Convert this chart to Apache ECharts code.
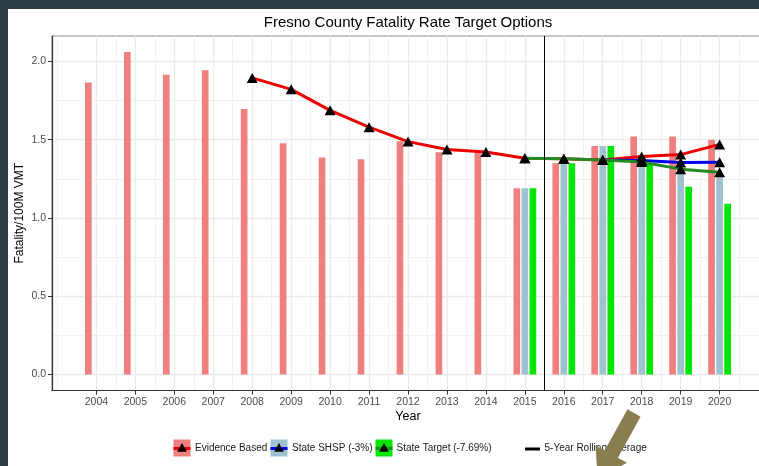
<!DOCTYPE html>
<html><head><meta charset="utf-8">
<script src="https://cdn.jsdelivr.net/npm/echarts@6/dist/echarts.min.js"></script>
<style>html,body{margin:0;padding:0;background:#fff;overflow:hidden;}#c{width:759px;height:466px;}</style>
</head><body><div id="c"></div>
<script>
// ---- data ----
const years = [2004,2005,2006,2007,2008,2009,2010,2011,2012,2013,2014,2015,2016,2017,2018,2019,2020];
const evidenceBars = [1.865,2.06,1.916,1.944,1.697,1.478,1.386,1.375,1.49,1.42,1.42,1.19,1.35,1.46,1.52,1.52,1.50];
const targetYears = [2015,2016,2017,2018,2019,2020];
const shspBars = [1.19,1.35,1.46,1.40,1.31,1.26];
const targetBars = [1.19,1.35,1.46,1.35,1.20,1.09];
const evidenceLineYears = [2008,2009,2010,2011,2012,2013,2014,2015,2016,2017,2018,2019,2020];
const evidenceLine = [1.895,1.822,1.688,1.58,1.488,1.437,1.422,1.382,1.378,1.370,1.392,1.405,1.47];
const shspLineYears = [2017,2018,2019,2020];
const shspLine = [1.370,1.367,1.354,1.356];
const targetLineYears = [2015,2016,2017,2018,2019,2020];
const targetLine = [1.382,1.378,1.370,1.358,1.312,1.292];
const yTicks = [0,0.5,1,1.5,2];
const yMinorTicks = [0.25,0.75,1.25,1.75];
const xMinorTicks = [2003].concat(years.map(y => y + 0.5));
const splitYear = 2015.5;
const seriesNames = ['Evidence Based','State SHSP (-3%)','State Target (-7.69%)','5-Year Rolling Average'];
const chartTitle = 'Fresno County Fatality Rate Target Options';
const xTitle = 'Year';
const yTitle = 'Fatality/100M VMT';

// ---- style ----
const FONT = '"Liberation Sans", Arial, sans-serif';
const barColors = ['#F08080','#9EC2D0','#00E600'];
const lineColors = ['#EE0000','#0000EE','#228B22'];
const pair = (xs, vs) => xs.map((x, i) => [x, vs[i]]);

const chart = echarts.init(document.getElementById('c'), null, {renderer:'canvas'});

const xRange = {min: 2002.86, max: 2021.14};
const yRange = {min: -0.103, max: 2.163};

const barBase = {type:'bar', barWidth:6.7, barGap:'20%', xAxisIndex:0, yAxisIndex:0, silent:true};
const lineBase = {type:'line', symbol:'triangle', symbolSize:[11,10], showSymbol:true, showAllSymbol:true,
  xAxisIndex:0, yAxisIndex:0, silent:true, itemStyle:{color:'#000'}};

// legend graphics
const legendKeys = [
  {x:173.5, fill:barColors[0], line:lineColors[0], tx:195},
  {x:270.5, fill:barColors[1], line:lineColors[1], tx:292},
  {x:375.5, fill:barColors[2], line:lineColors[2], tx:396.5}
];
const legendGraphics = [];
legendKeys.forEach((k, i) => {
  legendGraphics.push({type:'rect', shape:{x:k.x, y:439.5, width:17, height:17}, style:{fill:k.fill}, z:10});
  legendGraphics.push({type:'line', shape:{x1:k.x, y1:448.5, x2:k.x+17, y2:448.5}, style:{stroke:k.line, lineWidth:3}, z:11});
  const cx = k.x + 8.5, cy = 447.5;
  legendGraphics.push({type:'polygon', shape:{points:[[cx-4.8,cy+4.2],[cx+4.8,cy+4.2],[cx,cy-4.4]]}, style:{fill:'#000'}, z:12});
  legendGraphics.push({type:'text', style:{text:seriesNames[i], x:k.tx, y:448.5, textVerticalAlign:'middle', font:'10px ' + FONT, fill:'#1a1a1a'}, z:10});
});
legendGraphics.push({type:'line', shape:{x1:525, y1:449, x2:540, y2:449}, style:{stroke:'#000', lineWidth:3}, z:11});
legendGraphics.push({type:'text', style:{text:seriesNames[3], x:544.5, y:448.5, textVerticalAlign:'middle', font:'10px ' + FONT, fill:'#1a1a1a'}, z:10});

// arrow overlay
const C0 = [634, 413], d = [-0.484, 0.875], n = [0.875, 0.484];
const P = (base, a, b) => [base[0] + a*d[0] + b*n[0], base[1] + a*d[1] + b*n[1]];
const arrowPts = [P(C0,0,7.5), P(C0,47,7.5), P(C0,47,18), P(C0,75,0), P(C0,47,-18), P(C0,47,-7.5), P(C0,0,-7.5)];

chart.setOption({
  animation:false,
  backgroundColor:'#fff',
  textStyle:{fontFamily:FONT},
  grid:{left:52, top:36, width:712, height:354.5, show:true, borderColor:'#8a8a8a', borderWidth:1,
    backgroundColor:'transparent', containLabel:false, outerBoundsMode:'none'},
  xAxis:[
    {type:'value', gridIndex:0, position:'bottom', min:xRange.min, max:xRange.max,
     axisLine:{show:true, onZero:false, lineStyle:{color:'#333', width:1.2}},
     axisTick:{show:true, length:4, inside:false, customValues:years, lineStyle:{color:'#333', width:1}},
     axisLabel:{show:true, customValues:years, formatter:v => String(v), color:'#4d4d4d', fontSize:10.5, margin:6, fontFamily:FONT},
     splitLine:{show:true, lineStyle:{color:'#ebebeb', width:1.3}},
     name:xTitle, nameLocation:'middle', nameGap:20, nameMoveOverlap:false, nameTextStyle:{color:'#000', fontSize:12.5, fontFamily:FONT}},
    {type:'value', gridIndex:0, position:'bottom', min:xRange.min, max:xRange.max,
     axisLine:{show:false, onZero:false}, axisTick:{show:false, customValues:xMinorTicks},
     axisLabel:{show:false}, splitLine:{show:true, lineStyle:{color:'#f1f1f1', width:1}}}
  ],
  yAxis:[
    {type:'value', gridIndex:0, position:'left', min:yRange.min, max:yRange.max,
     axisLine:{show:true, onZero:false, lineStyle:{color:'#333', width:1.2}},
     axisTick:{show:true, length:4, customValues:yTicks, lineStyle:{color:'#333', width:1}},
     axisLabel:{show:true, customValues:yTicks, formatter:v => v.toFixed(1), color:'#4d4d4d', fontSize:10.5, margin:6, fontFamily:FONT},
     splitLine:{show:true, lineStyle:{color:'#ebebeb', width:1.3}},
     name:yTitle, nameLocation:'middle', nameGap:26, nameMoveOverlap:false, nameRotate:90, nameTextStyle:{color:'#000', fontSize:12, fontFamily:FONT}},
    {type:'value', gridIndex:0, position:'left', min:yRange.min, max:yRange.max,
     axisLine:{show:false, onZero:false}, axisTick:{show:false, customValues:yMinorTicks},
     axisLabel:{show:false}, splitLine:{show:true, lineStyle:{color:'#f1f1f1', width:1}}}
  ],
  series:[
    Object.assign({}, barBase, {name:seriesNames[0], data:pair(years, evidenceBars), itemStyle:{color:barColors[0]}}),
    Object.assign({}, barBase, {name:seriesNames[1], data:pair(targetYears, shspBars), itemStyle:{color:barColors[1]}}),
    Object.assign({}, barBase, {name:seriesNames[2], data:pair(targetYears, targetBars), itemStyle:{color:barColors[2]}}),
    Object.assign({}, lineBase, {name:seriesNames[0], data:pair(evidenceLineYears, evidenceLine), lineStyle:{color:lineColors[0], width:3},
      markLine:{silent:true, symbol:['none','none'], label:{show:false}, lineStyle:{color:'#000', width:1, type:'solid'},
        emphasis:{disabled:true}, data:[{xAxis:splitYear}]}}),
    Object.assign({}, lineBase, {name:seriesNames[1], data:pair(shspLineYears, shspLine), lineStyle:{color:lineColors[1], width:3}}),
    Object.assign({}, lineBase, {name:seriesNames[2], data:pair(targetLineYears, targetLine), lineStyle:{color:lineColors[2], width:3}})
  ],
  graphic:[
    {type:'rect', shape:{x:0, y:0, width:759, height:9}, style:{fill:'#2c3a42'}, z:100},
    {type:'rect', shape:{x:0, y:0, width:8, height:466}, style:{fill:'#2c3a42'}, z:100},
    {type:'text', style:{text:chartTitle, x:408, y:22.5, textAlign:'center', textVerticalAlign:'middle', font:'15px ' + FONT, fill:'#000'}, z:10}
  ].concat(legendGraphics).concat([
    {type:'polygon', shape:{points:arrowPts}, style:{fill:'#8a7d50'}, z:50}
  ])
});
</script></body></html>
